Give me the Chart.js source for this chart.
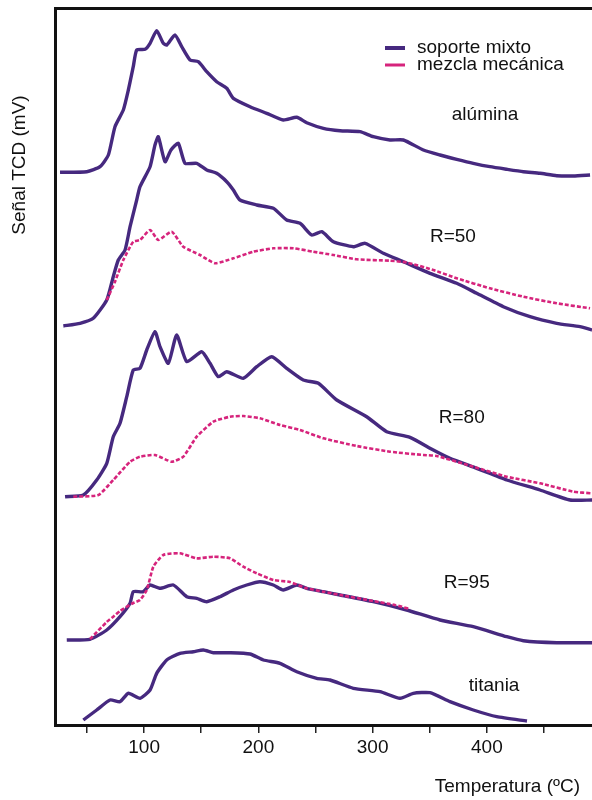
<!DOCTYPE html>
<html><head><meta charset="utf-8">
<script src="https://cdn.jsdelivr.net/npm/chart.js@4.4.1/dist/chart.umd.min.js"></script>
<style>html,body{margin:0;padding:0;background:#fff}#wrap{width:592px;height:800px;position:relative}</style>
</head><body><div id="wrap"><canvas id="c" width="592" height="800"></canvas></div>
<script>
// ---- data (temperature in ºC, signal in arbitrary stacked units) ----
const xTicks = [50, 100, 150, 200, 250, 300, 350, 400, 450];
const legendLabels = ['soporte mixto', 'mezcla mecánica'];
const curveLabels = ['alúmina', 'R=50', 'R=80', 'R=95', 'titania'];

const aluminaT = [26.4,49.8,61.4,68.7,74.5,81.8,86.2,90.5,93.5,100.8,105.2,111.0,116.8,119.8,127.0,132.9,140.2,147.4,154.8,163.5,172.3,178.1,192.7,207.3,221.8,233.6,242.3,256.9,271.5,289.0,300.6,315.2,326.9,344.4,359.0,373.6,388.1,402.7,417.4,431.9,446.5,461.1,475.7,490.3];
const aluminaV = [552.7,553.3,558.3,570,598.3,615,635,658.3,675,675.7,681.7,694.3,681.7,680,690,678.3,665,663.3,653.3,643.3,636.7,626.7,618.3,611.7,605,607.7,602.3,596.7,594.3,593.3,588.3,585,585,575,570,565.7,561.7,558.3,555.7,553.3,551.7,549.3,549,550];

const r50mixT = [29.3,43.9,55.5,67.3,73.0,77.4,83.3,87.7,93.5,96.4,105.2,109.5,112.4,118.3,123.5,129.9,135.8,146.0,154.8,163.5,172.3,178.1,183.9,198.6,213.1,224.8,236.5,246.7,255.5,265.6,283.1,293.4,309.4,326.9,350.2,373.6,391.1,414.4,437.8,461.1,481.5,492];
const r50mixV = [399,401.7,406.7,425,448.3,465,475,498.3,525,538.3,558.3,580,588.3,563.3,575,581.7,561.7,561.7,555,551.7,543.3,535,525,520,516.7,505,501.7,490,493.3,483.3,478.3,481.7,471.7,463.3,451.7,441.7,431.7,418.3,408.3,401.7,398.3,395];
const r50mecT = [67.3,74.5,81.8,90.5,96.4,105.2,112.4,124.1,134.3,148.9,162.1,178.1,195.6,213.1,230.6,248.1,265.6,286.1,315.2,329.8,353.1,373.6,402.7,431.9,461.1,490.3];
const r50mecV = [425,443.3,465,483.3,485,495,485,493.3,478.3,470,461.7,466.7,473.3,476.7,476.7,473.3,470,465.7,464.3,462.5,455,446.7,436.7,428.3,421.7,416.7];

const r80mixT = [30.8,46.8,58.5,67.3,73.0,78.9,84.8,90.5,96.4,102.3,109.5,113.9,121.2,128.5,137.3,150.4,157.7,164.9,172.3,186.8,198.6,211.7,224.8,239.3,252.5,268.6,294.8,312.3,332.7,353.1,367.7,391.1,417.4,446.5,472.8,492];
const r80mixV = [228.3,230,245,261.7,288.3,301.7,328.3,355,356.7,375,393.3,378.3,361.7,390,363.3,373.3,361.7,348.3,353.3,346.7,358.3,368.3,356.7,345,341.7,325,308.3,293.3,287.7,275,266.7,256.7,245,235,225,225];
const r80mecT = [38.0,59.9,73.0,87.7,96.4,109.5,124.2,134.3,146.0,160.6,175.2,186.8,201.4,218.9,236.5,256.9,286.1,315.2,344.4,356.1,388.1,417.4,446.5,475.7,492];
const r80mecV = [228.3,230,245,263.3,268.3,270,263.3,268.3,288.3,303.3,308.3,309,306.7,300,295,286.7,279,273.3,270,269,258.3,248.3,241.7,233.3,231.7];

const r95mixT = [32.3,52.6,67.3,78.9,87.7,90.5,99.3,105.2,113.9,125.6,137.3,146.0,154.8,166.4,178.1,189.8,201.4,213.1,221.8,233.6,242.3,256.9,271.5,300.6,329.8,359.0,388.1,417.4,431.9,461.1,492];
const r95mixV = [85,85.7,95,108.3,121.7,133.3,133.3,140,136.7,140,128.3,126.7,123.3,128.3,135,140,143.3,140,135,140,136.7,133.3,130,123.3,115,105,98.3,88.3,84.3,82.3,82.3];
const r95mecT = [52.7,67.3,73.0,78.9,90.5,96.4,102.3,108.1,116.8,131.4,146.0,160.6,175.2,186.8,198.6,213.1,227.7,242.3,256.9,271.5,300.6,319.5,332.7];
const r95mecV = [86,103,108.3,114,122,125,135,158.3,170,171.7,166.7,168.3,166.7,158.3,151.7,145,143,136.7,133.3,130,124,120,116];

const titaniaT = [46.8,58.5,70.2,78.9,86.2,96.4,105.2,111.0,119.8,131.4,143.1,151.8,160.6,175.2,192.7,204.4,218.9,233.6,251.1,262.7,283.1,306.5,324.0,335.6,350.2,367.7,388.1,408.6,435.1];
const titaniaV = [5,15,25,23.3,31.7,26.7,35,51.7,65,71.7,73.3,75,72.3,72.3,71,65,61.7,53.3,46.7,45,36.7,33.3,26.7,31.7,32.3,23.3,15,8.3,4];

// ---- styles ----
const PURPLE = '#46297f';
const PINK = '#d6247c';
const FONT = "'Liberation Sans', Arial, Helvetica, sans-serif";
const pts = (T, V) => T.map((t, i) => ({x: t, y: V[i]}));
const mix = (T, V) => ({label: legendLabels[0], data: pts(T, V), borderColor: PURPLE, borderWidth: 3.4, pointRadius: 0, tension: 0.18, fill: false});
const mec = (T, V) => ({label: legendLabels[1], data: pts(T, V), borderColor: PINK, borderWidth: 2.6, borderDash: [4, 2], pointRadius: 0, tension: 0.18, fill: false});

// label anchors in data coordinates (ºC, signal)
const labelAnchors = [[398.4, 610], [370.3, 488], [378.0, 307], [382.4, 142], [406.3, 39]];

const overlay = {
  id: 'overlay',
  afterDraw(chart) {
    const {ctx, chartArea: a, scales: {x, y}} = chart;
    ctx.save();
    ctx.fillStyle = '#111';
    ctx.font = '19px ' + FONT;
    ctx.textAlign = 'center';
    ctx.textBaseline = 'middle';
    curveLabels.forEach((t, i) => {
      ctx.fillText(t, x.getPixelForValue(labelAnchors[i][0]), y.getPixelForValue(labelAnchors[i][1]));
    });
    // legend
    const lx = a.left + 330, ly = a.top + 40;
    [[PURPLE, 4], [PINK, 3]].forEach(([c, w], i) => {
      ctx.strokeStyle = c; ctx.lineWidth = w;
      ctx.beginPath(); ctx.moveTo(lx, ly + i * 17); ctx.lineTo(lx + 20, ly + i * 17); ctx.stroke();
      ctx.textAlign = 'left';
      ctx.fillText(legendLabels[i], lx + 32, ly + i * 17);
    });
    // axis titles
    ctx.textAlign = 'right';
    ctx.fillText('Temperatura (ºC)', a.right - 12, a.bottom + 62);
    ctx.translate(20, 165);
    ctx.rotate(-Math.PI / 2);
    ctx.textAlign = 'center';
    ctx.fillText('Señal TCD (mV)', 0, 0);
    ctx.restore();
  }
};

new Chart(document.getElementById('c'), {
  type: 'line',
  data: {
    datasets: [
      mix(aluminaT, aluminaV),
      mec(r50mecT, r50mecV), mix(r50mixT, r50mixV),
      mec(r80mecT, r80mecV), mix(r80mixT, r80mixV),
      mec(r95mecT, r95mecV), mix(r95mixT, r95mixV),
      mix(titaniaT, titaniaV)
    ]
  },
  options: {
    responsive: false,
    animation: false,
    layout: {padding: 0},
    plugins: {legend: {display: false}, tooltip: {enabled: false}},
    scales: {
      x: {
        type: 'linear', position: 'bottom', min: 22, max: 492,
        afterBuildTicks: s => { s.ticks = xTicks.map(v => ({value: v})); },
        afterFit: s => { s.height = 75; },
        ticks: {callback: v => (v % 100 === 0 ? String(v) : ''), color: '#111', font: {size: 19, family: FONT}, padding: 3, maxRotation: 0, autoSkip: false},
        grid: {display: true, drawOnChartArea: false, drawTicks: true, tickLength: 8, color: '#222', lineWidth: 1.5},
        border: {display: true, color: '#111', width: 3}
      },
      xTop: {
        type: 'linear', position: 'top', min: 22, max: 492,
        afterFit: s => { s.height = 8; },
        ticks: {display: false},
        grid: {display: false, drawTicks: false},
        border: {display: true, color: '#111', width: 3}
      },
      y: {
        type: 'linear', position: 'left', min: 0, max: 717,
        afterFit: s => { s.width = 55; },
        ticks: {display: false},
        grid: {display: false, drawTicks: false},
        border: {display: true, color: '#111', width: 3}
      }
    }
  },
  plugins: [overlay]
});
</script>
</body></html>
